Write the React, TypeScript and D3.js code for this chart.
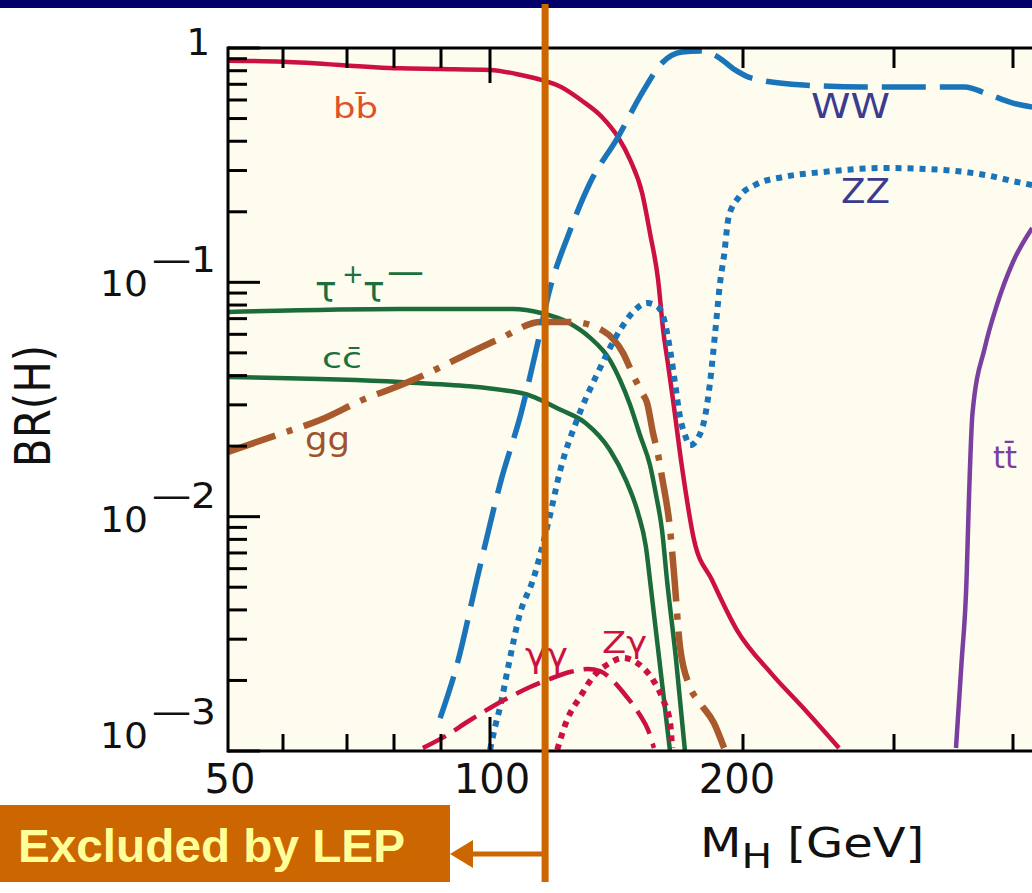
import React from "react";
import * as d3 from "d3";

// ---- axis values ----
const xTickValues = [50, 60, 70, 80, 90, 100, 200, 300, 400];
const xMajorTicks = [100];
const xLabelValues = [50, 100, 200];
const yMajorTicks = [1, 0.1, 0.01, 0.001];
const yExponents = [0, 1, 2, 3];

// ---- branching ratios ----
const bbMass = [50, 60, 81.2, 89.8, 100, 108.9, 115.3, 121.5, 128.3, 135.9, 142.0, 146.8, 151.7, 155.0, 158.5, 160.7, 162.9, 165.1, 169.2, 174.9, 183.7, 196.7, 215.6, 236.2, 258.8];
const bbBR = [0.883, 0.874, 0.819, 0.814, 0.806, 0.767, 0.73, 0.682, 0.6, 0.508, 0.417, 0.333, 0.2405, 0.1624, 0.1023, 0.0626, 0.0444, 0.0315, 0.0163, 0.00795, 0.00537, 0.00328, 0.00215, 0.0015, 0.00103];

const wwMass = [89.8, 93.3, 97.2, 103.1, 108.9, 113.7, 117.5, 124.2, 131.5, 142.0, 151.7, 160.2, 169.2, 177.8, 186.8, 195.7, 204.3, 235.0, 276.8, 322.6, 356.2, 373.8, 400, 419];
const wwBR = [0.00138, 0.0024, 0.00537, 0.01433, 0.0277, 0.053, 0.0901, 0.1624, 0.2654, 0.417, 0.643, 0.863, 0.961, 0.971, 0.915, 0.806, 0.745, 0.695, 0.682, 0.682, 0.682, 0.643, 0.582, 0.56];

const zzMass = [100, 101.4, 102.8, 105.1, 108.6, 112.5, 117.5, 121.5, 126.9, 134.3, 142.8, 148.0, 153.8, 158.5, 161.5, 163.8, 166.0, 168.3, 170.6, 173.0, 176.8, 180.2, 182.7, 185.3, 187.8, 189.9, 192.3, 197.8, 206.5, 222.7, 247.9, 291.9, 338.6, 373.8, 403.9, 419];
const zzBR = [0.00101, 0.001266, 0.00154, 0.00228, 0.00388, 0.00537, 0.00968, 0.01629, 0.02585, 0.041, 0.0626, 0.0747, 0.0816, 0.0785, 0.0671, 0.0514, 0.0372, 0.0266, 0.0223, 0.0202, 0.02166, 0.0266, 0.0372, 0.0608, 0.0993, 0.1308, 0.19, 0.2312, 0.2602, 0.2814, 0.2956, 0.3075, 0.3015, 0.2871, 0.268, 0.2602];

const tautauMass = [50, 81.2, 106.5, 115.0, 124.2, 131.3, 138.9, 142.8, 146.8, 150.8, 155.0, 157.6, 160.2, 162.4, 166.5, 170.6];
const tautauBR = [0.0747, 0.0769, 0.0769, 0.074, 0.0671, 0.0584, 0.0466, 0.0383, 0.02996, 0.0223, 0.0166, 0.01238, 0.00877, 0.00537, 0.002445, 0.001];

const ccMass = [50, 81.2, 108.9, 121.5, 129.9, 138.9, 145.1, 150.0, 153.3, 155.0, 163.8];
const ccBR = [0.03945, 0.03756, 0.03371, 0.0285, 0.0251, 0.01926, 0.01433, 0.01037, 0.00742, 0.00537, 0.00099];

const ggMass = [50, 58.8, 65.6, 74.1, 78.7, 82.9, 101.9, 115.0, 125.5, 135.8, 144.0, 148.0, 151.7, 153.8, 156.3, 158.5, 160.2, 163.8, 165.8, 168.3, 173.0, 177.8, 184.7, 189.9];
const ggBR = [0.0189, 0.0223, 0.02585, 0.0321, 0.0347, 0.03756, 0.0567, 0.0677, 0.0677, 0.0626, 0.0499, 0.0402, 0.03371, 0.0305, 0.02275, 0.01833, 0.01476, 0.00877, 0.00537, 0.00278, 0.001875, 0.001602, 0.001316, 0.00103];

const ttMass = [348.5, 353.2, 357.5, 359.2, 362.7, 373.8, 384.7, 400, 419];
const ttBR = [0.00103, 0.002375, 0.00537, 0.01037, 0.02769, 0.05297, 0.08, 0.1221, 0.1705];

const gamgamMass = [86.0, 91.2, 95.2, 100, 105.6, 111.6, 117.9, 124.5, 130.8, 135.2, 139.7, 145.5, 150.8, 154.2, 156.7];
const gamgamBR = [0.00103, 0.00117, 0.00133, 0.001526, 0.0017, 0.001875, 0.00203, 0.002173, 0.002239, 0.002194, 0.00201, 0.0017, 0.001424, 0.00123, 0.00103];

const zgamMass = [120.2, 123.5, 128.0, 132.6, 138.9, 144.0, 150.8, 156.3, 160.7, 163.8, 164.7];
const zgamBR = [0.00101, 0.001357, 0.0017, 0.00207, 0.002375, 0.002493, 0.002328, 0.00201, 0.00165, 0.001316, 0.00103];

const lepLimit = 116.3;

export default function App() {
  const W = 1032;
  const H = 893;
  const left = 228;
  const top = 48;
  const bottom = 751;
  const right = 1032;

  const x = d3
    .scaleLog()
    .domain(xTickValues)
    .range([228, 283, 347, 394, 441, 490, 743, 894, 1013]);
  const y = d3.scaleLog().domain([0.001, 1]).range([bottom, top]);

  const mk = (ms: number[], bs: number[]) =>
    d3
      .line<number>()
      .x((i) => x(ms[i]))
      .y((i) => y(bs[i]))
      .curve(d3.curveMonotoneX)(d3.range(ms.length)) as string;

  const red = "#cc1142";
  const blue = "#1a74ba";
  const green = "#1b6b3b";
  const brown = "#a85a2c";
  const purple = "#7b3fa0";
  const orange = "#cc6600";

  const minorY: number[] = [];
  [0.001, 0.01, 0.1].forEach((d) => {
    for (let k = 2; k <= 9; k++) minorY.push(k * d);
  });
  const yLabelShift = [7, 14, 15, -3];

  const font = "'DejaVu Sans', sans-serif";
  const lx = x(lepLimit);

  return (
    <svg
      width={W}
      height={H}
      style={{ position: "absolute", left: 0, top: 0, display: "block", background: "#ffffff" }}
    >
      <defs>
        <clipPath id="plotClip">
          <rect x={left} y={top} width={right - left} height={bottom - top} />
        </clipPath>
      </defs>
      <rect x={0} y={0} width={W} height={8} fill="#00006a" />
      <rect x={left} y={top} width={right - left} height={bottom - top} fill="#fdfcee" />

      <g clipPath="url(#plotClip)" fill="none" strokeLinejoin="round">
        <path d={mk(bbMass, bbBR)} stroke={red} strokeWidth={4.5} />
        <path d={mk(tautauMass, tautauBR)} stroke={green} strokeWidth={4.5} />
        <path d={mk(ccMass, ccBR)} stroke={green} strokeWidth={4.5} />
        <path d={mk(ttMass, ttBR)} stroke={purple} strokeWidth={4.5} />
        <path d={mk(ggMass, ggBR)} stroke={brown} strokeWidth={6.5} strokeDasharray="50,12,6,12" />
        <path d={mk(wwMass, wwBR)} stroke={blue} strokeWidth={5.5} strokeDasharray="44,14" />
        <path d={mk(zzMass, zzBR)} stroke={blue} strokeWidth={6} strokeDasharray="6,6" />
        <path d={mk(gamgamMass, gamgamBR)} stroke={red} strokeWidth={4.5} strokeDasharray="26,10" />
        <path d={mk(zgamMass, zgamBR)} stroke={red} strokeWidth={6} strokeDasharray="6,6" />
      </g>

      {/* frame */}
      <g stroke="#000" strokeWidth={3}>
        <line x1={left} y1={top} x2={right} y2={top} />
        <line x1={left} y1={bottom} x2={right} y2={bottom} />
        <line x1={left} y1={top - 1.5} x2={left} y2={bottom + 1.5} />
        {yMajorTicks.map((v) => (
          <line key={"ym" + v} x1={left} x2={left + 32} y1={y(v)} y2={y(v)} />
        ))}
        {minorY.map((v) => (
          <line key={"yn" + v} x1={left} x2={left + 19} y1={y(v)} y2={y(v)} />
        ))}
        {xTickValues.slice(1).map((v) => {
          const len = xMajorTicks.includes(v) ? 34 : 17;
          const lenTop = xMajorTicks.includes(v) ? 35 : 20;
          return (
            <g key={"xt" + v}>
              <line x1={x(v)} x2={x(v)} y1={bottom} y2={bottom - len} />
              <line x1={x(v)} x2={x(v)} y1={top} y2={top + lenTop} />
            </g>
          );
        })}
      </g>

      {/* axis labels */}
      <g fontFamily={font} fill="#111">
        {yMajorTicks.map((v, i) => {
          const base = y(v) + yLabelShift[i];
          if (yExponents[i] === 0)
            return (
              <text key={"yl" + v} x={210} y={base} fontSize={37} textAnchor="end">
                1
              </text>
            );
          return (
            <g key={"yl" + v}>
              <text x={100} y={base} fontSize={35} textLength={48} lengthAdjust="spacingAndGlyphs">
                10
              </text>
              <text x={152} y={base - 24} fontSize={35} textLength={64} lengthAdjust="spacingAndGlyphs">
                {"—" + yExponents[i]}
              </text>
            </g>
          );
        })}
        {xLabelValues.map((v) => (
          <text
            key={"xl" + v}
            x={x(v) + (v === 200 ? -6 : 2)}
            y={793}
            fontSize={40}
            textAnchor="middle"
          >
            {String(v)}
          </text>
        ))}
        <text transform="translate(700,857) scale(1.2,1)" fontSize={40}>
          M<tspan fontSize={34} dy={11}>H</tspan>
          <tspan dy={-11} fontSize={40}>
            {" [GeV]"}
          </tspan>
        </text>
        <text transform="translate(50,406) scale(1.2,1) rotate(-90)" fontSize={42} textAnchor="middle">
          BR(H)
        </text>
      </g>

      {/* curve labels */}
      <g fontFamily={font}>
        <text x={333} y={118} fontSize={29} fill="#e0502a" textLength={45} lengthAdjust="spacingAndGlyphs">
          {"bb\u0304"}
        </text>
        <text x={811} y={118} fontSize={34} fill="#3b3b8f" textLength={79} lengthAdjust="spacingAndGlyphs">
          WW
        </text>
        <text x={841} y={203} fontSize={34} fill="#3b3b8f" textLength={49} lengthAdjust="spacingAndGlyphs">
          ZZ
        </text>
        <text y={302} fontSize={36} fill="#1b7040">
          <tspan x={315}>τ</tspan>
          <tspan x={342} y={283} fontSize={26}>
            +
          </tspan>
          <tspan x={363} y={302}>
            τ
          </tspan>
          <tspan x={387} y={284} fontSize={37}>
            —
          </tspan>
        </text>
        <text x={322} y={368} fontSize={29} fill="#1b7040" textLength={40} lengthAdjust="spacingAndGlyphs">
          {"cc\u0304"}
        </text>
        <text x={305} y={450} fontSize={32} fill="#a0522d" textLength={45} lengthAdjust="spacingAndGlyphs">
          gg
        </text>
        <text x={993} y={468} fontSize={30} fill={purple} textLength={24} lengthAdjust="spacingAndGlyphs">
          {"tt\u0304"}
        </text>
        <text x={525} y={667} fontSize={34} fill={red} textLength={43} lengthAdjust="spacingAndGlyphs">
          γγ
        </text>
        <text x={602} y={653} fontSize={30} fill={red} textLength={45} lengthAdjust="spacingAndGlyphs">
          Zγ
        </text>
      </g>

      {/* LEP exclusion overlay */}
      <line x1={lx} x2={lx} y1={4} y2={882} stroke={orange} strokeWidth={7} />
      <line x1={470} x2={lx} y1={854} y2={854} stroke={orange} strokeWidth={5} />
      <path d={`M450,854 L473,840 L473,868 Z`} fill={orange} />
      <rect x={0} y={805} width={450} height={77} fill={orange} />
      <text
        x={18}
        y={862}
        fontFamily="'Liberation Sans', Arial, sans-serif"
        fontWeight="bold"
        fontSize={46}
        fill="#ffff99"
        textLength={387}
        lengthAdjust="spacingAndGlyphs"
      >
        Excluded by LEP
      </text>
    </svg>
  );
}
